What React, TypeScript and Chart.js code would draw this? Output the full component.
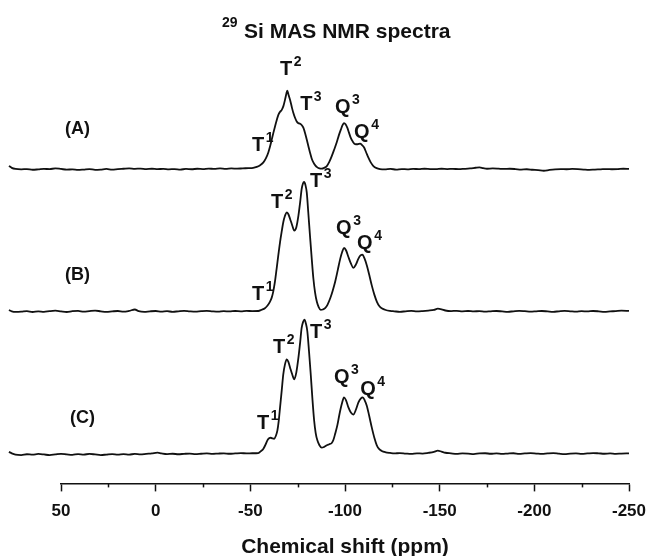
import React, { useEffect, useRef } from "react";
import { Chart, registerables } from "chart.js";

Chart.register(...registerables);

// [chemical shift (ppm), relative intensity]
const spectrumA: [number, number][] = [
  [77.5, 3.5], [76, 1.5], [74, 0.4], [71, 0], [68, 0.3], [65, -0.4], [62, 0], [59, 0.5], [56, 0.2], [53, 1.0],
  [50, 0.4], [47, -0.3], [44, 0], [41, -0.6], [38, -0.2], [35, 0.3], [32, -0.5], [29, -0.2], [26, 0.4], [23, -0.3],
  [20, 0.2], [17, 0.6], [14, 1.0], [11, 0.5], [8, 0.8], [5, 0.3], [2, 0.6], [-1, 0.2], [-4, 0.5], [-7, 0],
  [-10, 0.3], [-13, -0.2], [-16, 0.4], [-19, 0.1], [-22, 0.6], [-25, 0.3], [-28, 0.8], [-31, 0.4], [-34, 0.9],
  [-37, 0.5], [-40, 0.9], [-43, 0.7], [-46, 1.0], [-49, 1.2], [-51.5, 1.5],
  [-53.4, 2.5], [-55, 4], [-56.9, 7], [-58.2, 11], [-59.5, 17], [-60.4, 23], [-61.3, 30], [-62.2, 37], [-63, 43],
  [-64, 50], [-64.8, 55], [-65.7, 58], [-66.6, 60], [-67.5, 64], [-68.3, 70], [-69, 76], [-69.5, 79.3], [-70.2, 75],
  [-71, 70], [-72, 62], [-72.7, 57], [-73.6, 52], [-74.5, 48.3], [-75.4, 46.5], [-76.3, 46], [-77.2, 44.5], [-78, 42],
  [-79, 36], [-79.8, 30], [-80.7, 23], [-81.5, 17], [-82.4, 11], [-83.3, 7], [-84.3, 4], [-85.4, 2], [-86.5, 1],
  [-87.7, 0.7], [-89, 1.5], [-90.4, 3.3], [-91.7, 7.5], [-93, 13.3], [-94.3, 20], [-95.6, 27], [-96.7, 34], [-97.8, 40],
  [-98.7, 44.5], [-99.5, 46.7], [-100.3, 45.5], [-101.2, 42], [-102.1, 37], [-103, 32], [-104.1, 28], [-105.3, 25.5],
  [-106.6, 25.3], [-108, 26], [-109, 24.5], [-110.1, 22], [-111.2, 17], [-112.3, 12], [-113.6, 7], [-115, 3.3],
  [-116.7, 1.2], [-118.5, 0.3],
  [-121, 0], [-124, 0.4], [-127, -0.2], [-130, 0.3], [-133, 0], [-136, 0.5], [-139, 0.2], [-142, 0.6], [-145, 0.3],
  [-148, 0.2], [-151, 0.6], [-154, 0.3], [-157, 0.5], [-160, 0.2], [-163, 0.5], [-166, 0.9], [-169, 1.6], [-171, 2.0],
  [-173, 1.2], [-175, 0.6], [-178, 0.9], [-181, 0.7], [-184, 0.4], [-187, 0.6], [-190, 0.3], [-193, -0.2], [-196, 0.1],
  [-199, -0.4], [-202, -0.8], [-205, -1.4], [-208, -0.6], [-211, 0], [-214, 0.3], [-217, 0.1], [-220, 0.4], [-223, 0.2],
  [-226, -0.2], [-229, -0.5], [-232, -0.2], [-235, 0], [-238, 0.3], [-241, 0.1], [-244, 0.2], [-247, 0.6], [-250, 0.5],
];

const spectrumB: [number, number][] = [
  [77.5, 1.5], [76, 0.2], [74, -0.4], [71, -0.2], [68, 0.3], [65, -0.5], [62, 0.2], [59, -0.3], [56, 0.4], [53, 0.8],
  [50, 0.1], [47, -0.5], [44, 0.3], [41, 0.6], [38, -0.2], [35, 0.4], [32, 0.9], [29, 0.2], [26, -0.4], [23, 0.1],
  [20, 0.5], [17, -0.2], [14, 0.6], [11, 2.0], [9, 0.4], [6, -0.3], [3, 0.2], [0, 0.5], [-3, -0.1], [-6, 0.3],
  [-9, -0.3], [-12, 0.2], [-15, 0.6], [-18, 0.1], [-21, -0.2], [-24, 0.3], [-27, 0.6], [-30, 0.1], [-33, -0.2],
  [-36, 0.3], [-39, 0.1], [-42, 0.5], [-45, 0.2], [-48, 0.6], [-51, 0.4],
  [-54.2, 0.5], [-56, 1.8], [-57.7, 3.3], [-59.1, 6], [-60.4, 10], [-61.3, 14], [-62.1, 20], [-63, 30], [-63.9, 43.3],
  [-64.8, 57], [-65.7, 70], [-66.6, 81], [-67.4, 90], [-68.3, 96.5], [-69.2, 100], [-70.1, 98], [-71, 93.3],
  [-72.1, 87], [-73.2, 81.6], [-74.3, 85], [-75.4, 96.6], [-76.3, 110], [-77.1, 123.3], [-77.8, 129], [-78.4, 130.6],
  [-79.1, 127.5], [-79.8, 120], [-80.6, 100], [-81.5, 76.6], [-82.4, 54], [-83.3, 33.3], [-84.2, 19], [-85.1, 10],
  [-86.1, 4.5], [-87.2, 1.6], [-88.3, 2], [-89.5, 3.3], [-90.8, 7], [-92.2, 13.3], [-93.5, 21], [-94.8, 30],
  [-96.2, 42], [-97.5, 53.3], [-98.5, 60], [-99.5, 64], [-100.6, 61.5], [-101.8, 55], [-103.1, 48.5], [-104.4, 44],
  [-105.8, 47.5], [-107.1, 53.3], [-108.2, 56.5], [-109.2, 57.3], [-110.3, 53.5], [-111.5, 46.6], [-112.8, 37],
  [-114.1, 26.6], [-115.5, 17], [-116.8, 10], [-118.1, 5.5], [-119.4, 3.3], [-121.5, 1.5], [-123.8, 0.6],
  [-126, 0.2], [-129, -0.3], [-132, 0.2], [-135, 0.6], [-138, 0.1], [-141, 0.4], [-144, 0.9], [-147, 1.6], [-149, 2.8],
  [-151, 2.2], [-153, 1.0], [-156, 0.4], [-159, 0.7], [-162, 0.2], [-165, 0.5], [-168, 0.1], [-171, 0.4], [-174, -0.2],
  [-177, 0.2], [-180, 0.5], [-183, 0.1], [-186, -0.3], [-189, 0.2], [-192, 0.6], [-195, 0.3], [-198, -0.1], [-201, 0.2],
  [-204, 0.5], [-207, 0.1], [-210, -0.3], [-213, 0.2], [-216, 0.6], [-219, 0.2], [-222, -0.2], [-225, 0.3], [-228, 0.1],
  [-231, 0.5], [-234, 0.2], [-237, -0.3], [-240, 0.1], [-243, 0.4], [-246, 0.8], [-250, 0.6],
];

const spectrumC: [number, number][] = [
  [77.5, 1.8], [76, 0.3], [74, -1.0], [71, -1.4], [68, -0.6], [65, -1.0], [62, -0.3], [59, -0.8], [56, -1.5], [53, -0.8],
  [50, -0.2], [47, -0.7], [44, -1.2], [41, -0.5], [38, -0.9], [35, -0.3], [32, -0.8], [29, -1.4], [26, -0.9], [23, -0.4],
  [20, -1.0], [17, -0.5], [14, -0.9], [11, -0.3], [8, -0.8], [5, -0.2], [2, 0.3], [-1, 1.0], [-3, 0.3], [-6, -0.4],
  [-9, -0.1], [-12, -0.6], [-15, -0.2], [-18, 0.1], [-21, -0.4], [-24, -0.1], [-27, 0.2], [-30, -0.2], [-33, 0.1],
  [-36, 0.3], [-39, -0.1], [-42, 0.2], [-45, 0.5], [-48, 0.3], [-51, 0.4],
  [-54.2, 0.6], [-55.6, 2.5], [-56.9, 5], [-58, 9], [-59, 13.4], [-59.9, 15.5], [-60.8, 16], [-61.7, 15.3], [-62.6, 15],
  [-63.5, 18], [-64.3, 23.4], [-65, 33], [-65.7, 46.7], [-66.6, 64], [-67.4, 80], [-68.3, 90], [-69.2, 95], [-70.1, 92.5],
  [-71, 86.7], [-72.1, 80], [-73.2, 75], [-74.3, 82], [-75.4, 96.7], [-76.3, 112], [-77.1, 126.7], [-77.9, 133],
  [-78.6, 135], [-79.3, 131.5], [-80.1, 123.4], [-81, 103], [-81.9, 80], [-82.8, 55], [-83.7, 33.4], [-84.5, 21],
  [-85.4, 13.4], [-86.5, 8.5], [-87.7, 6], [-89, 6.8], [-90.4, 8.4], [-91.7, 9.5], [-93, 10.7], [-93.9, 14], [-94.8, 20],
  [-96, 29], [-97.1, 40], [-98.3, 50], [-99.5, 56.7], [-100.6, 53.5], [-101.8, 46.7], [-103.1, 41.5], [-104.4, 39.4],
  [-105.8, 44.5], [-107.1, 51.7], [-108.3, 55.5], [-109.4, 56.7], [-110.4, 53.8], [-111.5, 48.4], [-112.8, 38],
  [-114.1, 26.7], [-115.5, 16], [-116.8, 8.4], [-118.1, 4.5], [-119.4, 2.7], [-121.5, 1.4], [-123.8, 0.7],
  [-126, 0.2], [-129, 0.6], [-132, 0.1], [-135, -0.3], [-138, 0.3], [-141, 0.1], [-144, 0.8], [-147, 1.8], [-149, 3.0],
  [-151, 2.0], [-153, 0.9], [-156, 0.3], [-159, -0.2], [-162, 0.3], [-165, 0.1], [-168, -0.4], [-171, 0.2], [-174, 0.4],
  [-177, -0.1], [-180, 0.3], [-183, -0.3], [-186, 0.1], [-189, 0.4], [-192, -0.2], [-195, 0.2], [-198, 0.5], [-201, 0.1],
  [-204, -0.3], [-207, 0.2], [-210, 0.5], [-213, 0], [-216, -0.4], [-219, 0.1], [-222, 0.3], [-225, -0.2], [-228, 0.2],
  [-231, 0.6], [-234, 0.3], [-237, -0.1], [-240, 0.2], [-243, -0.2], [-246, 0.1], [-250, 0.3],
];

// vertical stacking offsets of the three traces
const stackOffsets = { A: 316.6, B: 173.3, C: 30 };

const sampleNames = ["(A)", "(B)", "(C)"];
const sampleKeys: ("A" | "B" | "C")[] = ["A", "B", "C"];

// x axis ticks
const majorTicks = [50, 0, -50, -100, -150, -200, -250];
const minorTicks = [25, -25, -75, -125, -175, -225];

// peak assignment labels: spectrum, main letter, superscript, ppm, height above baseline
const peakLabels: { s: "A" | "B" | "C"; main: string; sup: string; ppm: number; h: number }[] = [
  { s: "A", main: "T", sup: "1", ppm: -50.9, h: 18 },
  { s: "A", main: "T", sup: "2", ppm: -65.7, h: 95 },
  { s: "A", main: "T", sup: "3", ppm: -76.3, h: 60 },
  { s: "A", main: "Q", sup: "3", ppm: -94.7, h: 57 },
  { s: "A", main: "Q", sup: "4", ppm: -104.8, h: 32 },
  { s: "B", main: "T", sup: "1", ppm: -50.9, h: 11.3 },
  { s: "B", main: "T", sup: "2", ppm: -60.9, h: 104.3 },
  { s: "B", main: "T", sup: "3", ppm: -81.5, h: 125.3 },
  { s: "B", main: "Q", sup: "3", ppm: -95.3, h: 78.3 },
  { s: "B", main: "Q", sup: "4", ppm: -106.4, h: 63.3 },
  { s: "C", main: "T", sup: "1", ppm: -53.5, h: 24.6 },
  { s: "C", main: "T", sup: "2", ppm: -62.0, h: 101.6 },
  { s: "C", main: "T", sup: "3", ppm: -81.5, h: 116.6 },
  { s: "C", main: "Q", sup: "3", ppm: -94.2, h: 71.6 },
  { s: "C", main: "Q", sup: "4", ppm: -108.0, h: 59.6 },
];

// sample label anchors (ppm, height above baseline)
const sampleLabelPos: [number, number][] = [
  [47.9, 36],
  [47.9, 31.3],
  [45.3, 30.6],
];

const FONT = '"Liberation Sans", Arial, Helvetica, sans-serif';
const INK = "#111111";

const annotationPlugin = {
  id: "nmrAnnotations",
  afterDraw(chart: any) {
    const ctx: CanvasRenderingContext2D = chart.ctx;
    const xs = chart.scales.x;
    const ys = chart.scales.y;
    ctx.save();
    // minor ticks
    ctx.strokeStyle = INK;
    ctx.lineWidth = 1.5;
    minorTicks.forEach((v) => {
      const px = Math.round(xs.getPixelForValue(v)) + 0.5;
      ctx.beginPath();
      ctx.moveTo(px, xs.top);
      ctx.lineTo(px, xs.top + 4);
      ctx.stroke();
    });

    ctx.fillStyle = INK;
    ctx.textBaseline = "alphabetic";
    ctx.textAlign = "left";

    // peak labels
    peakLabels.forEach((l) => {
      const px = xs.getPixelForValue(l.ppm);
      const py = ys.getPixelForValue(stackOffsets[l.s] + l.h);
      ctx.font = `bold 20px ${FONT}`;
      ctx.fillText(l.main, px, py);
      const w = ctx.measureText(l.main).width;
      ctx.font = `bold 14px ${FONT}`;
      ctx.fillText(l.sup, px + w + 1.5, py - 9);
    });

    // sample labels
    ctx.font = `bold 18px ${FONT}`;
    sampleNames.forEach((name, i) => {
      const [ppm, h] = sampleLabelPos[i];
      const px = xs.getPixelForValue(ppm);
      const py = ys.getPixelForValue(stackOffsets[sampleKeys[i]] + h);
      ctx.fillText(name, px, py);
    });

    // title with superscript isotope
    ctx.font = `bold 14px ${FONT}`;
    ctx.fillText("29", 222, 27);
    ctx.font = `bold 21px ${FONT}`;
    ctx.fillText("Si MAS NMR spectra", 244, 38);
    ctx.restore();
  },
};

export default function App() {
  const canvasRef = useRef<HTMLCanvasElement | null>(null);

  useEffect(() => {
    if (!canvasRef.current) return;
    const mk = (arr: [number, number][], off: number) => arr.map(([x, h]) => ({ x, y: h + off }));
    const chart = new Chart(canvasRef.current, {
      type: "line",
      data: {
        datasets: [
          { label: "A", data: mk(spectrumA, stackOffsets.A) },
          { label: "B", data: mk(spectrumB, stackOffsets.B) },
          { label: "C", data: mk(spectrumC, stackOffsets.C) },
        ].map((d) => ({
          ...d,
          borderColor: INK,
          borderWidth: 1.8,
          pointRadius: 0,
          fill: false,
          clip: false as any,
          cubicInterpolationMode: "monotone" as const,
        })),
      },
      options: {
        responsive: false,
        animation: false,
        events: [],
        elements: { line: { capBezierPoints: false } },
        layout: { padding: { left: 61, right: 17, top: 40, bottom: -4 } },
        plugins: {
          legend: { display: false },
          tooltip: { enabled: false },
          title: { display: false },
        },
        scales: {
          x: {
            type: "linear",
            min: -250,
            max: 50,
            reverse: true,
            afterBuildTicks: (s: any) => {
              s.ticks = majorTicks.map((v) => ({ value: v }));
            },
            afterFit: (s: any) => {
              s.paddingLeft = 0;
              s.paddingRight = 0;
            },
            border: { display: true, color: INK, width: 1.5 },
            grid: {
              display: true,
              drawOnChartArea: false,
              drawTicks: true,
              tickLength: 8,
              tickColor: INK,
              tickWidth: 1.5,
              color: INK,
            },
            ticks: {
              color: INK,
              padding: 10,
              maxRotation: 0,
              autoSkip: false,
              font: { family: FONT, size: 17, weight: "bold" },
              callback: (v: any) => String(v),
            },
            title: {
              display: true,
              text: "Chemical shift (ppm)",
              color: INK,
              font: { family: FONT, size: 21, weight: "bold" },
              padding: { top: 3, bottom: 0 },
            },
          },
          y: { type: "linear", display: false, min: 0, max: 447 },
        },
      },
      plugins: [annotationPlugin],
    } as any);
    return () => chart.destroy();
  }, []);

  return (
    <div style={{ position: "fixed", left: 0, top: 0, width: 646, height: 556, background: "#fff" }}>
      <canvas ref={canvasRef} width={646} height={556} style={{ display: "block" }} />
    </div>
  );
}
